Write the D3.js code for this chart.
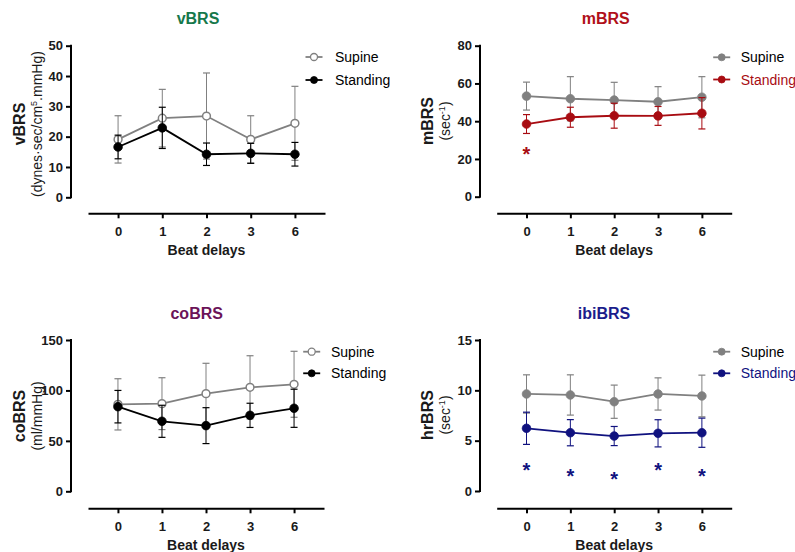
<!DOCTYPE html>
<html>
<head>
<meta charset="utf-8">
<script src="https://cdn.jsdelivr.net/npm/d3@7"></script>
<style>
  html, body { margin: 0; padding: 0; background: #fff; }
  svg { display: block; font-family: "Liberation Sans", Arial, Helvetica, sans-serif; }
</style>
</head>
<body>
<svg id="chart" width="795" height="552"></svg>
<script>
// Beat-delay categories shared by all four panels
const beatDelays = ["0", "1", "2", "3", "6"];
const seriesNames = ["Supine", "Standing"];

// vBRS (dynes·sec/cm5.mmHg): mean and SD
const vbrsSupineMean   = [19.1, 26.1, 26.8, 19.1, 24.4];
const vbrsSupineSD     = [7.8, 9.5, 14.2, 7.8, 12.2];
const vbrsStandingMean = [16.6, 22.9, 14.2, 14.5, 14.2];
const vbrsStandingSD   = [3.9, 6.8, 3.7, 3.3, 3.9];
const vbrsTicks = [0, 10, 20, 30, 40, 50];

// mBRS (sec-1)
const mbrsSupineMean   = [53.3, 51.9, 51.2, 50.3, 52.7];
const mbrsSupineSD     = [7.4, 11.7, 9.4, 8.0, 10.9];
const mbrsStandingMean = [38.5, 42.1, 42.9, 42.8, 44.2];
const mbrsStandingSD   = [5.0, 5.3, 6.6, 5.0, 8.3];
const mbrsTicks = [0, 20, 40, 60, 80];
const mbrsStars = [{ delay: "0", value: 24.7 }];

// coBRS (ml/mmHg)
const cobrsSupineMean   = [86.2, 86.9, 96.8, 103.1, 106.1];
const cobrsSupineSD     = [25.4, 25.7, 30.1, 31.3, 32.7];
const cobrsStandingMean = [83.9, 69.4, 65.1, 75.3, 82.3];
const cobrsStandingSD   = [16.1, 15.9, 17.8, 12.0, 18.9];
const cobrsTicks = [0, 50, 100, 150];

// ibiBRS / hrBRS (sec-1)
const ibiSupineMean   = [9.64, 9.54, 8.87, 9.64, 9.44];
const ibiSupineSD     = [1.9, 2.0, 1.65, 1.6, 2.07];
const ibiStandingMean = [6.23, 5.79, 5.46, 5.73, 5.79];
const ibiStandingSD   = [1.6, 1.3, 0.95, 1.35, 1.45];
const ibiTicks = [0, 5, 10, 15];
const ibiStars = [
  { delay: "0", value: 2.48 }, { delay: "1", value: 1.92 }, { delay: "2", value: 1.59 },
  { delay: "3", value: 2.48 }, { delay: "6", value: 1.92 }
];

const GRAY = "#808080";

const panels = [
  {
    title: "vBRS", titleColor: "#16784b", label: "vBRS",
    units: [{ t: "(dynes·sec/cm" }, { t: "5", sup: true }, { t: ".mmHg)" }],
    ticks: vbrsTicks, supine: [vbrsSupineMean, vbrsSupineSD], standing: [vbrsStandingMean, vbrsStandingSD],
    standColor: "#000", openSupine: true, standText: "#000", stars: [],
    axisX: 71, yTop: 45.7, yBot: 197.3, xAxisY: 213.3, xRange: [88, 325],
    titleX: 198, titleY: 24, labelY: 124, labelX: 25, unitsX: 42,
    legX: 314, legTextX: 335, legY: [57, 80]
  },
  {
    title: "mBRS", titleColor: "#b0101a", label: "mBRS",
    units: [{ t: "(sec" }, { t: "-1", sup: true }, { t: ")" }],
    ticks: mbrsTicks, supine: [mbrsSupineMean, mbrsSupineSD], standing: [mbrsStandingMean, mbrsStandingSD],
    standColor: "#a80c12", openSupine: false, standText: "#a80c12", stars: mbrsStars,
    axisX: 480, yTop: 45.7, yBot: 196.7, xAxisY: 213.3, xRange: [496.7, 731.7],
    titleX: 605.7, titleY: 24, labelY: 121, labelX: 433, unitsX: 450,
    legX: 721.7, legTextX: 740.7, legY: [57.3, 79.5]
  },
  {
    title: "coBRS", titleColor: "#6b1358", label: "coBRS",
    units: [{ t: "(ml/mmHg)" }],
    ticks: cobrsTicks, supine: [cobrsSupineMean, cobrsSupineSD], standing: [cobrsStandingMean, cobrsStandingSD],
    standColor: "#000", openSupine: true, standText: "#000", stars: [],
    axisX: 71, yTop: 340, yBot: 491.3, xAxisY: 508.3, xRange: [88, 324],
    titleX: 196.7, titleY: 319, labelY: 416, labelX: 25, unitsX: 42,
    legX: 311.7, legTextX: 331, legY: [351.7, 373.3]
  },
  {
    title: "ibiBRS", titleColor: "#1b1d8c", label: "hrBRS",
    units: [{ t: "(sec" }, { t: "-1", sup: true }, { t: ")" }],
    ticks: ibiTicks, supine: [ibiSupineMean, ibiSupineSD], standing: [ibiStandingMean, ibiStandingSD],
    standColor: "#10127f", openSupine: false, standText: "#10127f", stars: ibiStars,
    axisX: 480, yTop: 340, yBot: 491, xAxisY: 508.3, xRange: [496.7, 731.7],
    titleX: 604, titleY: 319, labelY: 415, labelX: 433, unitsX: 450,
    legX: 721.7, legTextX: 740.7, legY: [351.7, 373.3]
  }
];

const svg = d3.select("#chart");

panels.forEach(p => {
  const g = svg.append("g");
  const yMax = d3.max(p.ticks);

  const x = d3.scalePoint().domain(beatDelays).range(p.xRange).padding(0.68);
  const y = d3.scaleLinear().domain([0, yMax]).range([p.yBot, p.yTop]);

  // title
  g.append("text")
    .attr("x", p.titleX).attr("y", p.titleY)
    .attr("text-anchor", "middle")
    .attr("font-size", 16).attr("font-weight", "bold")
    .attr("fill", p.titleColor)
    .text(p.title);

  // y axis
  const yAxis = g.append("g")
    .attr("transform", `translate(${p.axisX},0)`)
    .call(d3.axisLeft(y).tickValues(p.ticks).tickSize(5).tickSizeOuter(0).tickPadding(3));
  // x axis (offset below the plot, GraphPad style)
  const xAxis = g.append("g")
    .attr("transform", `translate(0,${p.xAxisY})`)
    .call(d3.axisBottom(x).tickSize(5).tickSizeOuter(0).tickPadding(8.5));

  [yAxis, xAxis].forEach(ax => {
    ax.select(".domain").attr("stroke", "#000").attr("stroke-width", 2);
    ax.selectAll(".tick line").attr("stroke", "#000").attr("stroke-width", 2);
    ax.selectAll(".tick text")
      .attr("font-size", 13).attr("font-weight", "bold")
      .attr("fill", "#1a1a1a")
      .style("font-family", "'Liberation Sans', Arial, sans-serif");
  });
  yAxis.selectAll(".domain").attr("d", `M0,${p.yBot + 1}V${p.yTop - 1}`);

  // x axis title
  g.append("text")
    .attr("x", (p.xRange[0] + p.xRange[1]) / 2).attr("y", p.xAxisY + 41.5)
    .attr("text-anchor", "middle")
    .attr("font-size", 14).attr("font-weight", "bold").attr("fill", "#1a1a1a")
    .text("Beat delays");

  // y axis title (two lines)
  g.append("text")
    .attr("transform", `translate(${p.labelX},${p.labelY}) rotate(-90)`)
    .attr("text-anchor", "middle")
    .attr("font-size", 16).attr("font-weight", "bold").attr("fill", "#1a1a1a")
    .text(p.label);
  const ut = g.append("text")
    .attr("transform", `translate(${p.unitsX},${p.labelY}) rotate(-90)`)
    .attr("text-anchor", "middle")
    .attr("font-size", 14).attr("fill", "#1a1a1a");
  p.units.forEach(u => {
    const ts = ut.append("tspan").text(u.t);
    if (u.sup) ts.attr("font-size", 9).attr("baseline-shift", "super");
  });

  // series: supine first, standing on top
  const series = [
    { name: seriesNames[0], mean: p.supine[0], sd: p.supine[1], color: GRAY, open: p.openSupine, textColor: "#000" },
    { name: seriesNames[1], mean: p.standing[0], sd: p.standing[1], color: p.standColor, open: false, textColor: p.standText }
  ];

  series.forEach(s => {
    const pts = beatDelays.map((d, i) => ({ d, m: s.mean[i], sd: s.sd[i] }));
    const sg = g.append("g");

    // error bars
    const eb = sg.selectAll("g.eb").data(pts).join("g").attr("class", "eb");
    eb.append("line")
      .attr("x1", d => x(d.d)).attr("x2", d => x(d.d))
      .attr("y1", d => y(d.m - d.sd)).attr("y2", d => y(d.m + d.sd))
      .attr("stroke", s.color).attr("stroke-width", 1);
    [-1, 1].forEach(sign => {
      eb.append("line")
        .attr("x1", d => x(d.d) - 3.5).attr("x2", d => x(d.d) + 3.5)
        .attr("y1", d => y(d.m + sign * d.sd)).attr("y2", d => y(d.m + sign * d.sd))
        .attr("stroke", s.color).attr("stroke-width", 1.2);
    });

    // mean line
    sg.append("path")
      .datum(pts)
      .attr("fill", "none").attr("stroke", s.color).attr("stroke-width", 1.8)
      .attr("d", d3.line().x(d => x(d.d)).y(d => y(d.m)));

    // markers
    sg.selectAll("circle").data(pts).join("circle")
      .attr("cx", d => x(d.d)).attr("cy", d => y(d.m))
      .attr("r", s.open ? 3.9 : 4.3)
      .attr("fill", s.open ? "#fff" : s.color)
      .attr("stroke", s.color).attr("stroke-width", s.open ? 1.5 : 0.8);
  });

  // significance markers
  g.selectAll("text.star").data(p.stars).join("text")
    .attr("class", "star")
    .attr("x", d => x(d.delay)).attr("y", d => y(d.value) + 11)
    .attr("text-anchor", "middle")
    .attr("font-size", 20).attr("font-weight", "bold")
    .attr("fill", p.standColor)
    .text("*");

  // legend
  const leg = g.append("g");
  series.forEach((s, i) => {
    const ly = p.legY[i];
    leg.append("line")
      .attr("x1", p.legX - 8.5).attr("x2", p.legX + 8.5)
      .attr("y1", ly).attr("y2", ly)
      .attr("stroke", s.color).attr("stroke-width", 1.8);
    leg.append("circle")
      .attr("cx", p.legX).attr("cy", ly).attr("r", 3.5)
      .attr("fill", s.open ? "#fff" : s.color)
      .attr("stroke", s.color).attr("stroke-width", s.open ? 1.3 : 0.8);
    leg.append("text")
      .attr("x", p.legTextX).attr("y", ly + 5)
      .attr("font-size", 14).attr("fill", s.textColor)
      .text(s.name);
  });
});
</script>
</body>
</html>
